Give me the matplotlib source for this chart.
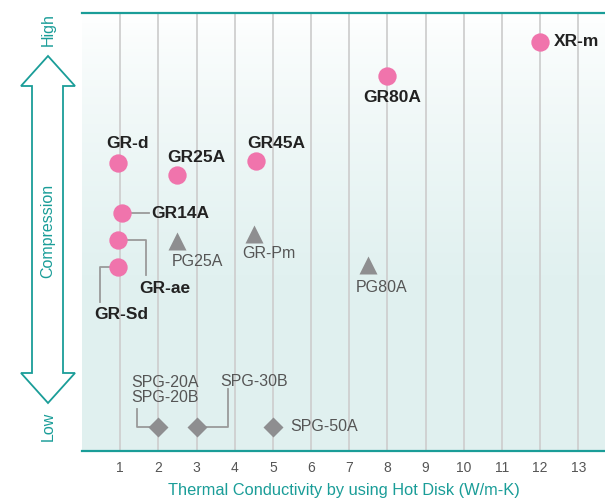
import numpy as np
import matplotlib
matplotlib.use("Agg")
import matplotlib.pyplot as plt
from matplotlib.patches import Polygon

plt.rcParams['font.family'] = ['Liberation Sans', 'DejaVu Sans']

TEAL = '#1a9d98'
PINK = '#f074ac'
GRAY = '#8e8e90'
LINE = '#9a9a9a'

# --- data ---
# pink circles (GR series)
gr_names = ['XR-m', 'GR80A', 'GR45A', 'GR25A', 'GR-d', 'GR14A', 'GR-ae', 'GR-Sd']
gr_x = [12.0, 8.0, 4.55, 2.5, 0.95, 1.05, 0.95, 0.95]
gr_y = [93.4, 85.6, 66.2, 63.0, 65.8, 54.3, 48.2, 42.0]

# gray triangles (PG series)
pg_names = ['PG25A', 'GR-Pm', 'PG80A']
pg_x = [2.5, 4.5, 7.5]
pg_y = [48.0, 49.6, 42.5]

# gray diamonds (SPG series)
spg_names = ['SPG-20A\nSPG-20B', 'SPG-30B', 'SPG-50A']
spg_x = [2.0, 3.0, 5.0]
spg_y = [5.5, 5.5, 5.5]

xticks = list(range(1, 14))

fig = plt.figure(figsize=(6.05, 5.0), dpi=100)
ax = fig.add_axes([82 / 605, 49 / 500, 523 / 605, 438 / 500])
ax.set_xlim(0, 13.7)
ax.set_ylim(0, 100)

# background gradient (white at top -> pale teal)
t = np.linspace(0, 1, 256)
w = np.clip(t / 0.6, 0, 1) ** 0.8
top = np.array([1.0, 1.0, 1.0])
bot = np.array([0.882, 0.945, 0.941])
grad = (top[None, :] * (1 - w[:, None]) + bot[None, :] * w[:, None])[:, None, :]
ax.imshow(grad, extent=[0, 1, 0, 1], transform=ax.transAxes, aspect='auto',
          origin='upper', zorder=0)

for xv in xticks:
    ax.axvline(xv, color='#cfcfcf', lw=1.3, zorder=1)

for s in ['left', 'right']:
    ax.spines[s].set_visible(False)
for s in ['top', 'bottom']:
    ax.spines[s].set_color(TEAL)
    ax.spines[s].set_linewidth(1.6)

ax.set_xticks(xticks)
ax.set_xticklabels([str(v) for v in xticks])
ax.tick_params(axis='x', length=0, pad=7, labelsize=10, labelcolor='#555555')
ax.set_yticks([])
ax.set_xlabel('Thermal Conductivity by using Hot Disk (W/m-K)', color=TEAL,
              fontsize=11.8, labelpad=6)

# markers
ax.plot(gr_x, gr_y, 'o', ms=13.2, color=PINK, mec='none', zorder=4)
ax.plot(pg_x, pg_y, '^', ms=13, color=GRAY, mec='none', zorder=4)
ax.plot(spg_x, spg_y, 'D', ms=10, color=GRAY, mec='none', zorder=4)

bold = dict(fontsize=12.5, fontweight='bold', color='#222222', zorder=5)
norm = dict(fontsize=11.5, color='#555555', zorder=5)

# GR labels
ax.text(12.37, 93.4, gr_names[0], ha='left', va='center', **bold)
ax.text(8.13, 80.8, gr_names[1], ha='center', va='center', **bold)
ax.text(5.09, 70.3, gr_names[2], ha='center', va='center', **bold)
ax.text(3.0, 67.1, gr_names[3], ha='center', va='center', **bold)
ax.text(1.18, 70.3, gr_names[4], ha='center', va='center', **bold)
ax.text(1.81, 54.3, gr_names[5], ha='left', va='center', **bold)
ax.text(2.17, 37.0, gr_names[6], ha='center', va='center', **bold)
ax.text(1.02, 31.1, gr_names[7], ha='center', va='center', **bold)

# connectors
lk = dict(color=LINE, lw=1.3, zorder=3)
ax.plot([gr_x[5], 1.76], [gr_y[5], gr_y[5]], **lk)
ax.plot([gr_x[6], 1.68, 1.68], [gr_y[6], gr_y[6], 40.2], **lk)
ax.plot([gr_x[7], 0.48, 0.48], [gr_y[7], gr_y[7], 34.0], **lk)
ax.plot([1.45, 1.45, spg_x[0]], [9.6, spg_y[0], spg_y[0]], **lk)
ax.plot([spg_x[1], 3.83, 3.83], [spg_y[1], spg_y[1], 14.2], **lk)

# PG labels
ax.text(3.02, 43.2, pg_names[0], ha='center', va='center', **norm)
ax.text(4.9, 45.2, pg_names[1], ha='center', va='center', **norm)
ax.text(7.84, 37.4, pg_names[2], ha='center', va='center', **norm)

# SPG labels
ax.text(1.29, 14.0, spg_names[0], ha='left', va='center', linespacing=1.0, **norm)
ax.text(3.62, 15.8, spg_names[1], ha='left', va='center', **norm)
ax.text(5.45, spg_y[2], spg_names[2], ha='left', va='center', **norm)

# hollow double arrow on the left (figure pixel coords)
def px(x, y):
    return (x / 605, 1 - y / 500)

arrow = [px(32, 86), px(21, 86), px(48, 56), px(75, 86), px(63, 86),
         px(63, 373), px(75, 373), px(48, 403), px(21, 373), px(32, 373)]
fig.patches.append(Polygon(arrow, closed=True, fill=False, edgecolor=TEAL,
                           lw=1.3, transform=fig.transFigure))
fig.text(*px(48, 30), 'High', rotation=90, ha='center', va='center', color=TEAL, fontsize=11.5)
fig.text(*px(48, 231), 'Compression', rotation=90, ha='center', va='center', color=TEAL, fontsize=11.5)
fig.text(*px(48, 426), 'Low', rotation=90, ha='center', va='center', color=TEAL, fontsize=11.5)

fig.savefig('out.png', dpi=100)
